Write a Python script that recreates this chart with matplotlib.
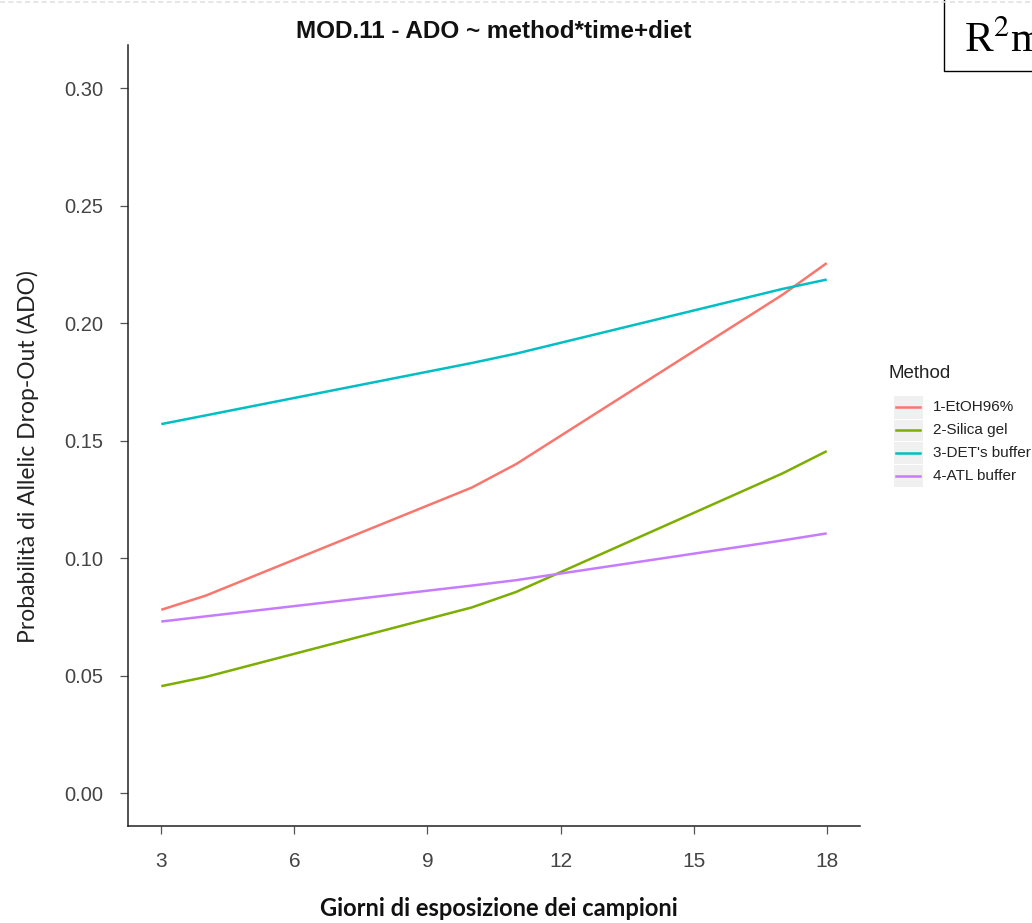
import matplotlib
matplotlib.use("Agg")
import matplotlib.pyplot as plt
from matplotlib.lines import Line2D
from matplotlib.patches import Rectangle

# ---- data ----
days = [3, 4, 10, 11, 17, 18]
methods = ["1-EtOH96%", "2-Silica gel", "3-DET's buffer", "4-ATL buffer"]
etoh = [0.078, 0.0840, 0.130, 0.140, 0.212, 0.2255]
silica = [0.0455, 0.0494, 0.079, 0.0856, 0.136, 0.1455]
det = [0.157, 0.1607, 0.183, 0.187, 0.2145, 0.2185]
atl = [0.073, 0.0752, 0.0883, 0.0906, 0.1075, 0.1105]
series = [etoh, silica, det, atl]
colors = ["#F8766D", "#7CAE00", "#00BFC4", "#C77CFF"]
xticks = [3, 6, 9, 12, 15, 18]
yticks = [0.00, 0.05, 0.10, 0.15, 0.20, 0.25, 0.30]

W, H = 1032, 923
plt.rcParams["mathtext.fontset"] = "stix"
fig = plt.figure(figsize=(W / 100, H / 100), dpi=100)
fig.patch.set_facecolor("white")

L, R, B, T = 128, 860, 826, 45
ax = fig.add_axes([L / W, (H - B) / H, (R - L) / W, (B - T) / H])

for vals, c in zip(series, colors):
    ax.plot(days, vals, color=c, lw=1.8, solid_capstyle="butt")

ax.set_xlim(2.25, 18.75)
ax.set_ylim(-0.014, 0.3183)
ax.set_xticks(xticks)
ax.set_xticklabels([str(t) for t in xticks])
ax.set_yticks(yticks)
ax.set_yticklabels([f"{t:.2f}" for t in yticks])
for s in ["top", "right"]:
    ax.spines[s].set_visible(False)
for s in ["left", "bottom"]:
    ax.spines[s].set_color("#222222")
    ax.spines[s].set_linewidth(1.1)
ax.tick_params(axis="both", length=5.5, width=0.9, color="#555555",
               labelcolor="#444444")
ax.tick_params(axis="x", pad=13, labelsize=15)
ax.tick_params(axis="y", pad=12, labelsize=14.5)
for lab in ax.get_xticklabels() + ax.get_yticklabels():
    lab.set_fontfamily("Liberation Sans")

# titles / labels
fig.text(494 / W, 1 - 31 / H, "MOD.11 - ADO ~ method*time+diet",
         ha="center", va="center", fontsize=17.5, fontweight="bold",
         family="Liberation Sans", color="#111111")
fig.text(28 / W, 1 - 457 / H, "Probabilità di Allelic Drop-Out (ADO)",
         rotation=90, ha="center", va="center", fontsize=16.5,
         family="Lato", color="#222222")
fig.text(499 / W, 1 - 908 / H, "Giorni di esposizione dei campioni",
         ha="center", va="center", fontsize=17, fontweight="bold",
         family="Lato", color="#111111")

# legend (ggplot style)
fig.text(889 / W, 1 - 373 / H, "Method", ha="left", va="center",
         fontsize=13.5, family="Liberation Sans", color="#222222")
key_x0, key_w, key_h, key_top = 893, 30, 23, 395.5
for i, (m, c) in enumerate(zip(methods, colors)):
    y0 = key_top + i * key_h
    fig.add_artist(Rectangle((key_x0 / W, 1 - (y0 + key_h) / H), key_w / W, key_h / H,
                             transform=fig.transFigure, facecolor="#F0F0F0",
                             edgecolor="white", lw=0.8))
    yc = 1 - (y0 + key_h / 2) / H
    fig.add_artist(Line2D([(key_x0 + 3) / W, (key_x0 + key_w - 3) / W], [yc, yc],
                          transform=fig.transFigure, color=c, lw=1.8))
    fig.text(933 / W, yc, m, ha="left", va="center", fontsize=11,
             family="Liberation Sans", color="#222222")

# R2 box at top right (cropped)
fig.add_artist(Rectangle((944 / W, 1 - 71 / H), 200 / W, 120 / H,
                         transform=fig.transFigure, facecolor="white",
                         edgecolor="black", lw=1.0, clip_on=False))
fig.text(964 / W, 1 - 52 / H, r"R$^{2}$m", ha="left", va="baseline",
         fontsize=31, family="Liberation Serif", color="black")

# faint dashed border at the top
fig.add_artist(Line2D([0, 1], [1 - 1.5 / H, 1 - 1.5 / H], transform=fig.transFigure,
                      color="#e2e2e2", lw=1.2, dashes=(3, 2)))

fig.savefig("out.png", dpi=100, facecolor="white")
